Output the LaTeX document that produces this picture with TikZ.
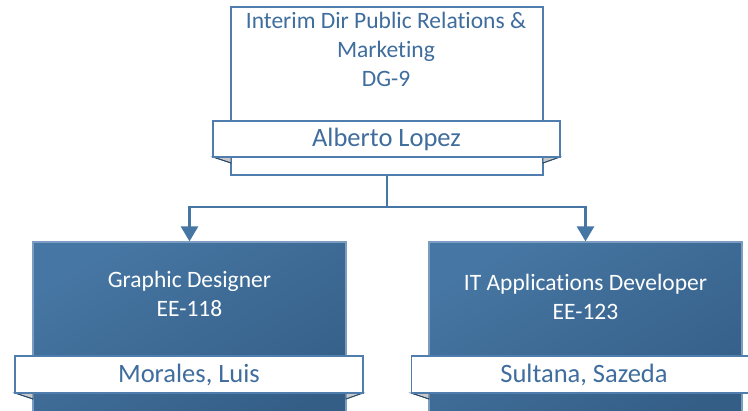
\documentclass[tikz,border=0pt]{standalone}
\usepackage{fontspec}
\setmainfont[Ligatures=NoCommon]{Carlito}
\usetikzlibrary{arrows.meta}
\definecolor{tblue}{HTML}{3F6D9D}
\definecolor{bord}{HTML}{4F7DAD}
\definecolor{boxA}{HTML}{4676A3}
\definecolor{boxB}{HTML}{345E86}
\definecolor{fold}{HTML}{C8C8C8}
\definecolor{foldline}{HTML}{2B4A6A}
\tikzset{
  posbox/.style={draw=bord, line width=1.2pt, inner sep=0pt},
  darkbox/.style={posbox, draw=bord!75!white, top color=boxA, bottom color=boxB, shading angle=30},
  banner/.style={draw=bord, line width=1.2pt, fill=white, inner sep=0pt, text=tblue, font=\fontsize{26.5}{30}\selectfont},
  titletext/.style={align=center, inner sep=0pt, font=\fontsize{23.5}{29}\selectfont},
  conn/.style={draw=boxA, line width=2.6pt},
  arr/.style={conn, -{Triangle[width=17pt,length=15pt]}},
  foldtri/.style={fill=fold, draw=foldline, line width=0.8pt}
}
\begin{document}
\begin{tikzpicture}[x=1pt,y=-1pt]
\useasboundingbox (0,0) rectangle (748,411);
\clip (0,0) rectangle (748,411);
% top box
\node[posbox, fill=white, minimum width=312pt, minimum height=168pt] (top) at (387,91) {};
\node[titletext, text=tblue] (toptitle) at (386,49.5) {Interim Dir Public Relations \&\\Marketing\\DG-9};
\fill[foldtri] (213,157) -- (231,157) -- (231,163) -- cycle;
\fill[foldtri] (560,157) -- (543,157) -- (543,163) -- cycle;
\draw[foldline, line width=0.8pt] (213,157) -- (231,163) (560,157) -- (543,163);
\node[banner, minimum width=347pt, minimum height=36pt] (topname) at (386.5,139) {Alberto Lopez};
% left box
\node[darkbox, minimum width=313pt, minimum height=190pt] (left) at (189.5,337) {};
\node[titletext, text=white] (lefttitle) at (189.5,293.5) {Graphic Designer\\EE-118};
\fill[foldtri] (15,393) -- (33,393) -- (33,399) -- cycle;
\fill[foldtri] (363,393) -- (346,393) -- (346,399) -- cycle;
\draw[foldline, line width=0.8pt] (15,393) -- (33,399) (363,393) -- (346,399);
\node[banner, minimum width=348pt, minimum height=37pt] (leftname) at (189,374.5) {Morales, Luis};
% right box
\node[darkbox, minimum width=313pt, minimum height=190pt] (right) at (585.5,337) {};
\node[titletext, text=white] (righttitle) at (585.5,296.5) {IT Applications Developer\\EE-123};
\fill[foldtri] (411,393) -- (429,393) -- (429,399) -- cycle;
\draw[foldline, line width=0.8pt] (411,393) -- (429,399);
\node[banner, minimum width=360pt, minimum height=37pt, anchor=west] (rightname) at (411,374.5) {};
\node[text=tblue, inner sep=0pt, font=\fontsize{26.5}{30}\selectfont] (rightnametext) at (584,374.5) {Sultana, Sazeda};
% connectors
\coordinate (mid) at (top.south |- 0,207);
\draw[conn] (top.south) -- (mid);
\draw[arr] (mid) -| (left.north);
\draw[arr] (mid) -| (right.north);
\end{tikzpicture}
\end{document}
